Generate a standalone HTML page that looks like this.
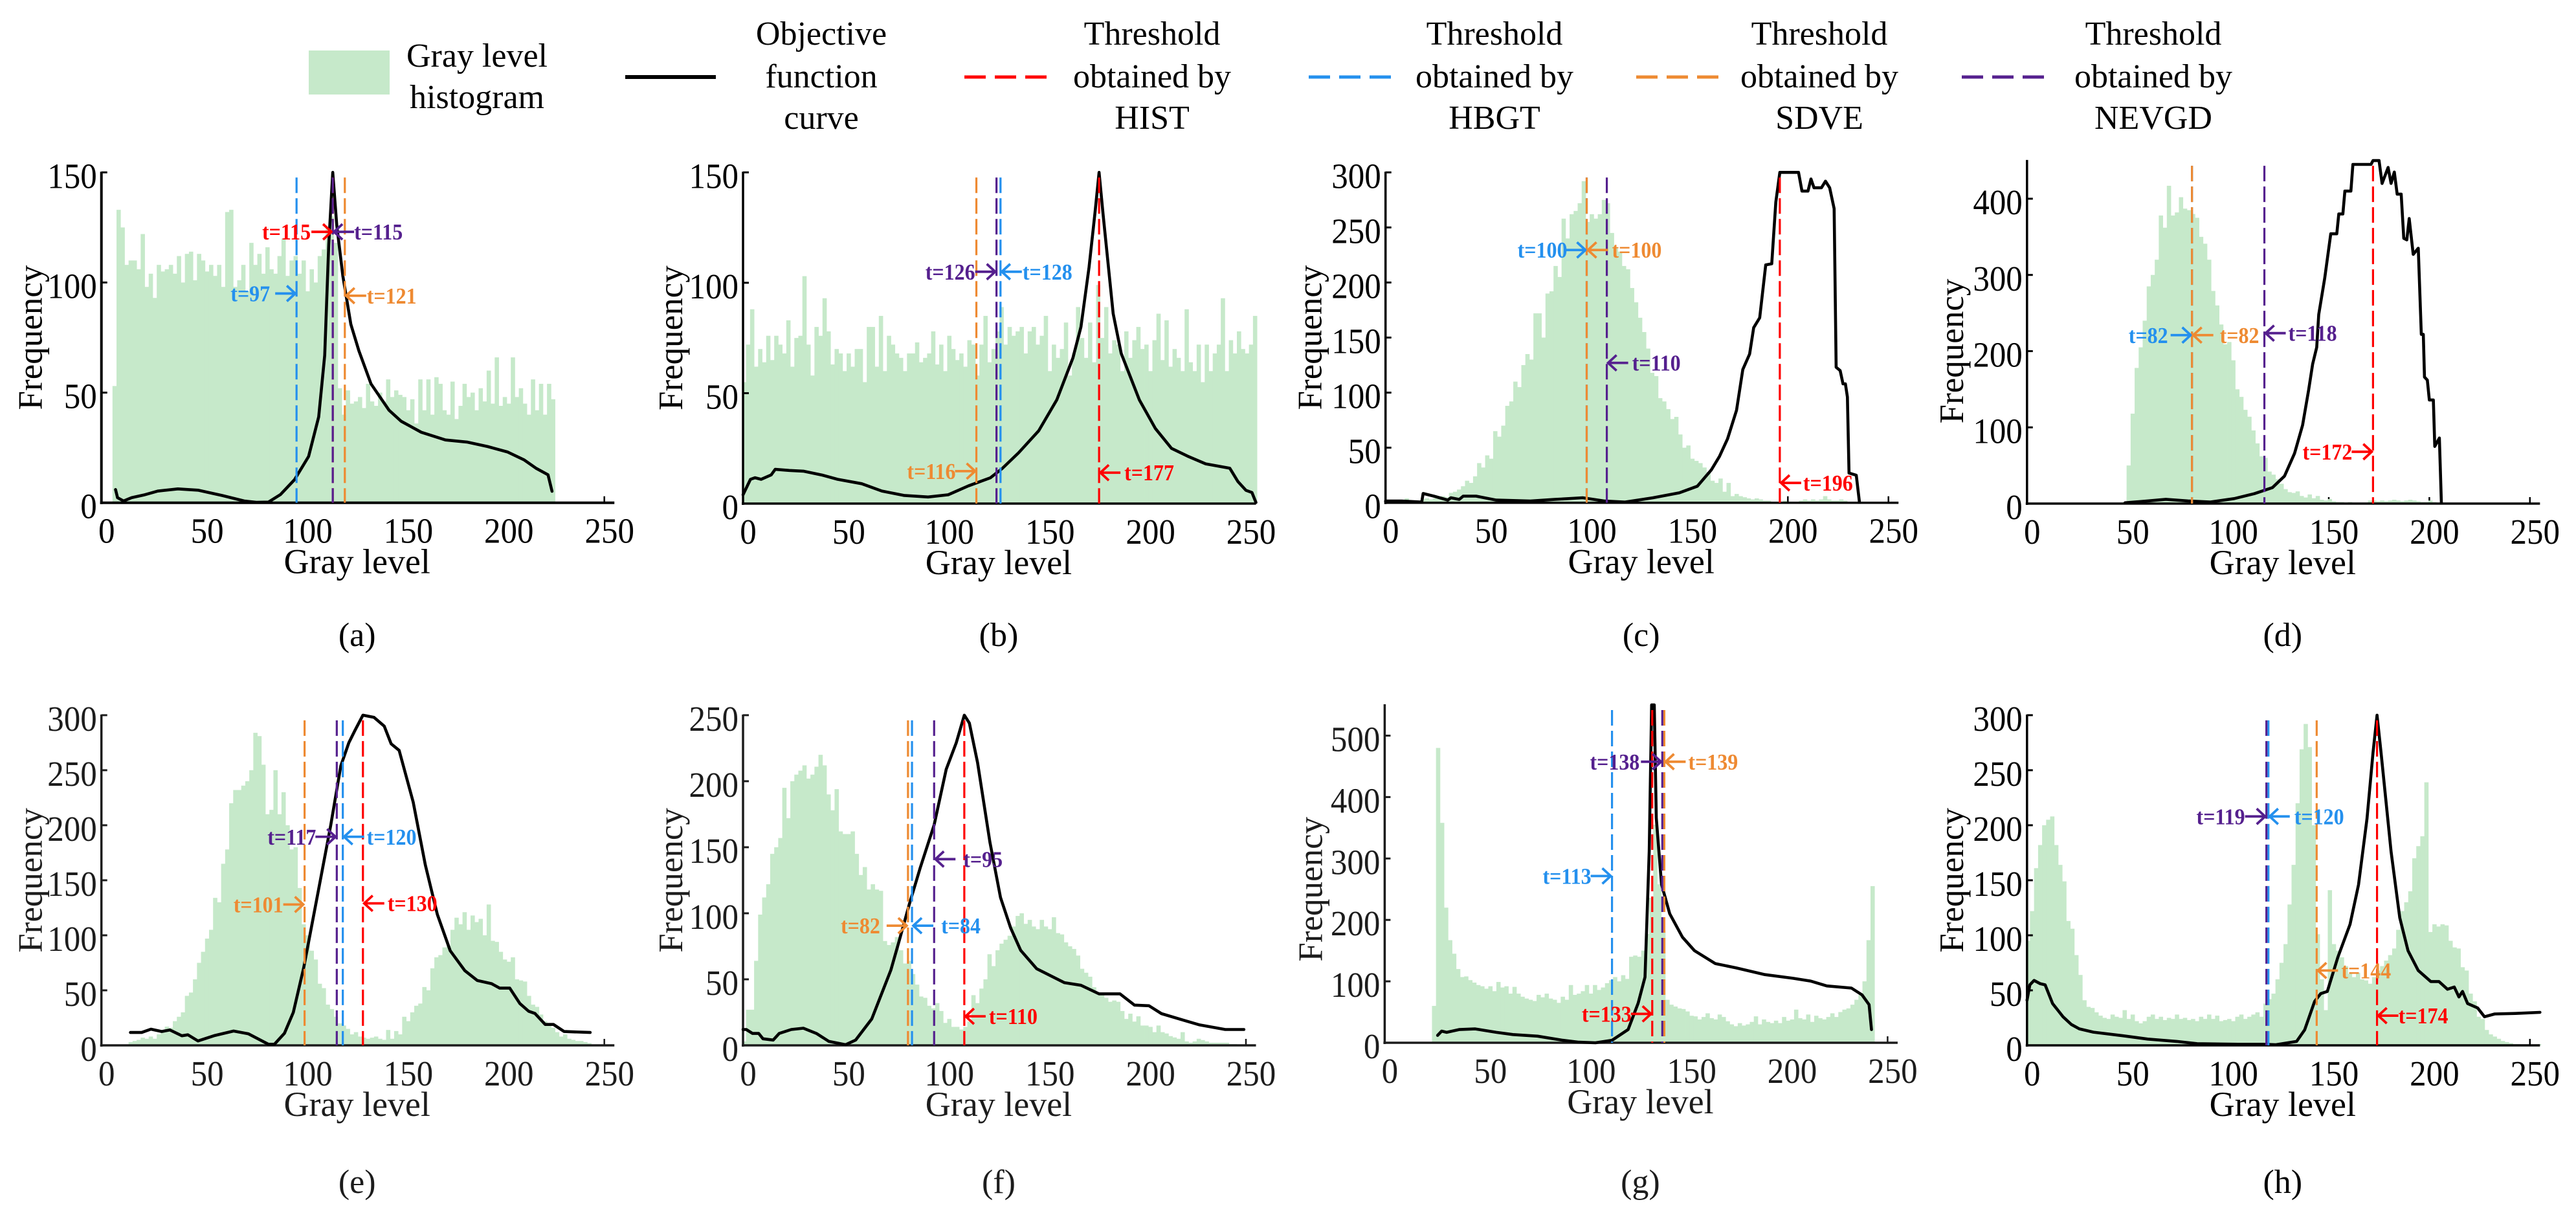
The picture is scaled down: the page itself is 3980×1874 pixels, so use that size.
<!DOCTYPE html>
<html lang="en">
<head>
<meta charset="utf-8">
<title>Gray level histograms and objective function curves</title>
<style>
html,body{margin:0;padding:0;background:#fff;}
svg{display:block;font-family:"Liberation Serif",serif;}
</style>
</head>
<body>
<svg id="figure" xmlns="http://www.w3.org/2000/svg" width="3980" height="1874" viewBox="0 0 3980 1874">
<rect x="0" y="0" width="3980" height="1874" fill="#fff"/>
<g font-size="52" text-anchor="middle" fill="#000">
<rect x="477" y="78" width="125" height="68" fill="#c6e9ca"/>
<text x="737"><tspan x="737" y="103">Gray level</tspan><tspan x="737" y="167">histogram</tspan></text>
<line x1="966" x2="1106" y1="119" y2="119" stroke="#000" stroke-width="6"/>
<text><tspan x="1269" y="69">Objective</tspan><tspan x="1269" y="135">function</tspan><tspan x="1269" y="199">curve</tspan></text>
<line x1="1490" x2="1617" y1="119" y2="119" stroke="#ff0000" stroke-width="5" stroke-dasharray="33 14"/>
<text><tspan x="1780" y="69">Threshold</tspan><tspan x="1780" y="135">obtained by</tspan><tspan x="1780" y="199">HIST</tspan></text>
<line x1="2022" x2="2151" y1="119" y2="119" stroke="#2490ee" stroke-width="5" stroke-dasharray="33 14"/>
<text><tspan x="2309" y="69">Threshold</tspan><tspan x="2309" y="135">obtained by</tspan><tspan x="2309" y="199">HBGT</tspan></text>
<line x1="2528" x2="2658" y1="119" y2="119" stroke="#ee8a32" stroke-width="5" stroke-dasharray="33 14"/>
<text><tspan x="2811" y="69">Threshold</tspan><tspan x="2811" y="135">obtained by</tspan><tspan x="2811" y="199">SDVE</tspan></text>
<line x1="3031" x2="3160" y1="119" y2="119" stroke="#55208e" stroke-width="5" stroke-dasharray="33 14"/>
<text><tspan x="3327" y="69">Threshold</tspan><tspan x="3327" y="135">obtained by</tspan><tspan x="3327" y="199">NEVGD</tspan></text>
</g>
</svg>
<script>
// ---- shared labels ----
const methods = ['HIST','HBGT','SDVE','NEVGD'];
const xTicks = [0,50,100,150,200,250];
const yTicksA = [0,50,100,150];
const yTicksB = [0,50,100,150];
const yTicksC = [0,50,100,150,200,250,300];
const yTicksD = [0,100,200,300,400];
const yTicksE = [0,50,100,150,200,250,300];
const yTicksF = [0,50,100,150,200,250];
const yTicksG = [0,100,200,300,400,500];
const yTicksH = [0,50,100,150,200,250,300];

// ---- histogram values (two-gray-level bins) ----
const histStartA = 6;
const histA = [53,133,125,108,110, 110,106,122,98,104, 93,108,105,106,108, 104,112,100,113,114, 101,113,110,105,108, 103,108,98,132,133, 98,101,108,96,118, 108,113,104,116,106, 104,112,120,103,110, 112,104,110,96,106, 100,112,115,125,130, 118,52,40,51,45, 46,48,43,54,46, 44,50,46,56,48, 51,49,48,42,47, 36,56,42,56,40, 57,54,42,40,55, 38,44,54,48,50, 42,52,46,60,45, 66,44,48,45,66, 48,52,45,40,56, 42,54,40,54,47];
const histStartB = 0;
const histB = [55,72,88,62,70, 64,76,65,76,72, 68,83,62,75,76, 103,72,58,80,76, 93,78,63,70,68, 60,68,62,70,70, 55,80,80,62,85, 60,76,72,68,66, 60,68,68,73,64, 66,68,78,63,72, 60,76,70,65,68, 62,74,72,58,72, 85,64,70,78,89, 72,80,76,78,80, 68,78,80,72,76, 85,60,72,66,70, 82,58,68,89,75, 66,82,64,99,75, 89,68,74,72,60, 78,66,74,80,70, 72,60,74,86,65, 83,62,70,66,60, 88,64,60,72,55, 72,60,68,72,93, 60,74,68,78,70, 68,72,85];
const histStartC = 4;
const histC = [0,1,2,4,1, 1,2,3,4,3, 4,5,6,5,9, 10,12,15,20,18, 24,36,32,43,40, 65,60,70,88,92, 110,105,125,135,130, 172,172,150,190,192, 215,205,258,240,262, 265,272,292,255,262, 258,262,275,272,245, 232,228,215,212,195, 182,168,155,140,118, 115,95,92,85,76, 78,62,50,52,40, 38,36,32,28,20, 18,22,10,18,6, 8,6,5,4,3, 4,3,2,2,1, 1,1,2,1,1, 1,2,3,2,3, 2,3,6,3,2, 2,3,2,1,1];
const histStartD = 48;
const histD = [2,50,118,178,205, 240,285,300,320,378, 362,417,378,382,402, 387,385,380,375,350, 341,320,279,260,235, 209,212,188,150,140, 123,114,96,79,62, 60,42,38,32,26, 19,15,14,16,10, 8,12,7,10,5, 4,6,3,2,2, 1,2,1,1,0, 1,4,4,3,4, 3,4,5,4,3, 4,5,4,3,2, 2,4,2,1,0];
const histStartE = 14;
const histE = [3,4,5,7,6, 8,6,10,14,17, 16,22,26,30,45, 48,60,75,85,97, 105,134,130,165,178, 220,232,232,236,240, 250,284,281,255,210, 214,250,210,230,200, 178,180,143,110,100, 86,78,56,52,37, 33,26,20,18,15, 10,12,8,7,6, 7,8,6,5,14, 6,13,10,26,22, 30,36,38,53,50, 70,80,82,89,90, 105,116,110,121,105, 118,112,115,100,128, 95,94,85,78,76, 80,60,59,58,45, 37,35,28,22,18, 16,12,8,10,6, 5,4,4,3,2];
const histStartF = 0;
const histF = [3,27,27,64,99, 112,122,145,150,157, 195,172,200,205,208, 212,202,205,211,220, 212,190,178,194,162, 160,160,162,145,129, 135,118,122,118,117, 79,76,78,82,72, 62,64,54,46,37, 36,30,28,32,26, 17,20,14,14,12, 14,18,38,32,43, 50,69,60,72,77, 80,83,90,98,100, 92,95,90,88,95, 90,88,97,85,84, 78,75,73,68,58, 55,52,44,40,38, 36,33,34,33,26, 20,24,18,22,15, 15,14,10,15,10, 9,7,6,5,10, 3,2,3,5,4, 3,2,2,2,2, 2,1,1,0];
const histStartG = 24;
const histG = [60,480,358,220,167, 145,120,107,108,102, 98,94,92,88,92, 84,99,90,92,80, 91,80,75,72,70, 68,78,74,80,72, 70,65,75,70,94, 78,80,84,94,80, 94,86,90,97,102, 107,100,110,104,140, 142,140,150,177,236, 355,258,183,70,62, 59,56,55,51,44, 43,38,42,48,40, 38,46,42,35,30, 27,32,28,30,34, 43,30,38,34,32, 36,32,42,36,38, 54,40,38,46,34, 44,40,38,42,48, 42,50,54,56,62, 70,78,100,167,255];
const histStartH = 0;
const histH = [95,122,161,182,200, 205,208,182,164,149, 113,106,82,64,41, 35,34,30,27,25, 24,28,26,25,32, 24,28,22,20,22, 26,28,24,26,23, 25,24,28,24,25, 23,24,22,26,24, 28,24,27,22,23, 24,22,26,28,24, 26,28,30,26,38, 42,47,60,75,92, 128,164,220,269,292, 271,200,101,60,32, 141,92,86,80,72, 65,62,66,60,59, 56,62,68,72,77, 82,88,105,122,130, 140,170,181,190,239, 103,110,108,110,109, 95,89,88,71,68, 47,40,26,24,14, 10,8,6,4,3, 2,1,1,0,0, 0,0,1];

// ---- objective function curves ----
const curveXA = [7,8,11,15,21,28,38,48,60,71,77,83,89,96,103,108,111,113,115,117,120,124,128,134,143,149,159,171,182,192,202,210,216,222,224];
const curveYA = [6,2.3,0.8,2.3,3.5,5.3,6.3,5.7,3.3,0.8,0.2,0.3,3.7,10.5,21,39,67,117,150,126,103,81,69,54,42,37,32,28.5,27.5,25.5,23,19.5,15.7,12.7,5.2];
const curveXB = [0,3.7,6,9,14,16,23,30,39,47,59,69,80,92,102,112,123,129,137,147,156,164,168,172,175,177,179,184,188,197,205,213,221,230,242,246,250,253,255];
const curveYB = [4,11,11.7,11,13,15.5,15,14.7,13,11,9,5.7,3.7,3,4,8,11.7,16,23,33,47,66,80,107,132,150,131,86,68,47,34,25,21.5,18,16,10,6,5,0.5];
const curveXC = [0,8,18,18.7,24,31,32.5,36.6,38.6,45,55,72,84,98,109,119,133,146,155,162,166,170,174.5,177.6,181,183,186,189,192,194,196,205.3,207,210,211.5,213,216.7,218.7,220.8,223,224,226,227.4,228.6,229.6,230.4,234,235.6];
const curveYC = [1.5,1.5,0.6,8.4,6,2.4,4.5,3,6,6,2.4,1.5,3,4.5,1.5,0.6,4.5,9,15,30,42,58,84,121,135,159,168,216,217,273,300,300,283,283,294,286,286,292,286,267,123,120,108,108,96,27,25,0.6];
const curveXD = [48.7,60,69,80,91,103,113,122,128,133,137,140,142,144,145,148,151,154,155,157,158,161,162,171,172,175,176.5,179.5,181,182.6,184,186,187.3,188.8,190,192,194.5,196,197,197.6,199,200,202,202.7,205,206];
const curveYD = [1,3.5,5.6,3.5,2,6.5,13,21,36,66,103,149,183,205,248,296,354,354,380,380,410,410,445,445,450,450,420,441,420,435,406,406,348,346,374,327,335,222,222,166,162,136,136,75,86,1];
const curveXE = [14.4,20,24.6,30,34,40,43,48,56.4,65.7,73,83,86,91,95.4,100.6,107.8,114,119,123,126,130,135.5,140.6,144,148,155,161,167,173.4,180.6,186.8,194,198,203,208,212.4,215.5,220.6,224.7,230,243];
const curveYE = [11.7,11.7,14.7,12.6,14,8.7,9.6,4,9,13,10.5,1,1,11,30,71,140,200,254,275,286,300,298,290,274,268,221,164,119,86,68,59,56,52,52,38,31,29,19,19,12.6,11.7];
const curveXF = [0,1.6,4.7,7.8,9.9,15,18,24,30,36.5,42.7,51,56,64,73.5,77.6,82.7,88,95,101,106,110,112.5,116.6,122.7,128,133,138,146,159.7,168,177,187.4,194.6,201.8,208,219,227,239.7,249];
const curveYF = [12,12,9,9,5,4,9,12,13,9,3,0.5,4,20,57,79,107,134,167,209,229,250,244,214,154,112,89,72,58,47.5,45.5,39,39,30.5,30,24,19,15.5,12,12];
const curveXG = [26.3,28.3,30.8,37,45,55.5,63.7,76,88,96.5,104.8,113,121,126,129.4,131.5,132.7,134,135,137.6,141.7,148,154,164.3,174.6,189,203,211.6,219.8,232,237.3,240.8,242];
const curveYG = [12,19,17,21.5,22.6,17,13.4,10.8,4.3,1,0,4,21.5,64.5,107,312,550,550,366,258,210,172,150,129,122,111,105,100.5,92.5,89,78,62,21.5];
const curveXH = [0,1.4,3.5,6.6,9,12.7,17.9,22,26,33,47.7,60,74.4,84.6,105,117.5,123.7,134,138,143,146,149.3,154.5,160.6,164.8,169,172,174,176,181,185.3,189.4,194.5,200.7,204.8,209,212.4,214.7,216.5,219,224,227.4,232.5,242.8,255];
const curveYH = [41,55,59,56,55,38,26,19,15,12,8.7,5.7,3.6,1.5,1,1,0.6,3.6,14,40,47,49,80,110,146,206,266,300,266,176,116,86,68,58,58,51,53,44,49,38,34,26,28.5,29,30];

// ---- thresholds and annotation heights, in the order of `methods` ----
const thresholdsA = [115,97,121,115];
const thresholdsB = [177,128,116,126];
const thresholdsC = [196,100,100,110];
const thresholdsD = [172,82,82,118];
const thresholdsE = [130,120,101,117];
const thresholdsF = [110,84,82,95];
const thresholdsG = [133,113,139,138];
const thresholdsH = [174,120,144,119];
const labelFreqA = [123,95,94,123];
const labelFreqB = [14,105,14.7,105];
const labelFreqC = [18,229.5,229.5,127];
const labelFreqD = [68,221,221,223.6];
const labelFreqE = [129,189.5,128,189.5];
const labelFreqF = [22,90.6,90.6,141];
const labelFreqG = [47,271.5,457.5,457.5];
const labelFreqH = [27,208,68,208];

// ---- layout (pixels and styles, separate from the data) ----
const methodColors = {HIST:'#ff0000',HBGT:'#2490ee',SDVE:'#ee8a32',NEVGD:'#55208e'};
const HIST_COLOR = '#c6e9ca';
const BIN_WIDTH = 2;
const X_SPAN_PX = 777;
const panels = [
 {id:'a',x0:156.7,zero:776.7,y1:150,yPx:266.3,yMax:150,ink:'#000',axisW:4,yLab:-92,ticks:yTicksA,start:histStartA,hist:histA,cx:curveXA,cy:curveYA,thr:thresholdsA,lf:labelFreqA,side:[-1,-1,1,1],gap:[34,41,34,33]},
 {id:'b',x0:1148,zero:778,y1:150,yPx:266.3,yMax:150,ink:'#000',axisW:3.5,yLab:-94,ticks:yTicksB,start:histStartB,hist:histB,cx:curveXB,cy:curveYB,thr:thresholdsB,lf:labelFreqB,side:[1,1,-1,-1],gap:[39,34,32,33]},
 {id:'c',x0:2140.7,zero:776.7,y1:300,yPx:266.3,yMax:300,ink:'#000',axisW:3.5,yLab:-99,ticks:yTicksC,start:histStartC,hist:histC,cx:curveXC,cy:curveYC,thr:thresholdsC,lf:labelFreqC,side:[1,-1,1,1],gap:[36,30,39,39]},
 {id:'d',x0:3131.8,zero:778,y1:400,yPx:307,yMax:450,ink:'#000',axisW:3.5,yLab:-99,ticks:yTicksD,start:histStartD,hist:histD,cx:curveXD,cy:curveYD,thr:thresholdsD,lf:labelFreqD,side:[-1,-1,1,1],gap:[32,37,43,37]},
 {id:'e',x0:156.7,zero:1615,y1:300,yPx:1104.9,yMax:300,ink:'#1c1c1c',axisW:3.5,yLab:-92,ticks:yTicksE,start:histStartE,hist:histE,cx:curveXE,cy:curveYE,thr:thresholdsE,lf:labelFreqE,side:[1,1,-1,-1],gap:[38,37,33,32]},
 {id:'f',x0:1148,zero:1615,y1:250,yPx:1104.9,yMax:250,ink:'#1c1c1c',axisW:3.5,yLab:-94,ticks:yTicksF,start:histStartF,hist:histF,cx:curveXF,cy:curveYF,thr:thresholdsF,lf:labelFreqF,side:[1,1,-1,1],gap:[38,45,43,45]},
 {id:'g',x0:2139.4,zero:1611,y1:500,yPx:1136.5,yMax:550,ink:'#1c1c1c',axisW:3.5,yLab:-97,ticks:yTicksG,start:histStartG,hist:histG,cx:curveXG,cy:curveYG,thr:thresholdsG,lf:labelFreqG,side:[-1,-1,1,-1],gap:[32,32,37,35]},
 {id:'h',x0:3131.8,zero:1615,y1:300,yPx:1104.9,yMax:300,ink:'#000',axisW:3.5,yLab:-99,ticks:yTicksH,start:histStartH,hist:histH,cx:curveXH,cy:curveYH,thr:thresholdsH,lf:labelFreqH,side:[1,1,1,-1],gap:[33,40,38,33]}
];
const captionBaseline = {a:998,b:998,c:998,d:998,e:1843,f:1843,g:1843,h:1843};

const svgNS = 'http://www.w3.org/2000/svg';
const root = document.getElementById('figure');

function make(tag, parent, attrs){
  const el = document.createElementNS(svgNS, tag);
  for (const k in attrs) el.setAttribute(k, attrs[k]);
  parent.appendChild(el);
  return el;
}
function xScale(p, v){ return p.x0 + v * X_SPAN_PX / 250; }
function yScale(p, v){ return p.zero - v * (p.zero - p.yPx) / p.y1; }

function drawPanel(p){
  const g = make('g', root, {});
  
  

  // x ticks sit under the histogram
  xTicks.forEach(function(t){
    const tick = make('line', g, {x1:xScale(p,t),x2:xScale(p,t),y1:p.zero,y2:p.zero-10,stroke:p.ink,'stroke-width':2.5});
    
    
    const lab = make('text', g, {transform:'translate('+(xScale(p,t)+8)+','+(p.zero+62)+') scale(1,1.08)','font-size':51,'text-anchor':'middle',fill:p.ink});
    lab.textContent = String(t);
    
    
  });

  // histogram bars
  const hg = make('g', g, {fill:HIST_COLOR});
  
  
  p.hist.forEach(function(v, i){
    const level = p.start + i * BIN_WIDTH;
    const left = xScale(p, level - 0.5);
    const bar = make('rect', hg, {x:left,y:yScale(p,v),width:xScale(p,level-0.5+BIN_WIDTH)-left+0.4,height:p.zero-yScale(p,v)});
    
    
  });

  // axes
  const xAxis = make('line', g, {x1:p.x0-2,x2:xScale(p,255),y1:p.zero,y2:p.zero,stroke:p.ink,'stroke-width':p.axisW});
  
  
  const yAxis = make('line', g, {x1:p.x0,x2:p.x0,y1:yScale(p,p.yMax)-1,y2:p.zero+2,stroke:p.ink,'stroke-width':p.axisW});
  
  
  p.ticks.forEach(function(t){
    const tick = make('line', g, {x1:p.x0,x2:p.x0+9,y1:yScale(p,t),y2:yScale(p,t),stroke:p.ink,'stroke-width':3});
    
    
    const lab = make('text', g, {transform:'translate('+(p.x0-7)+','+(yScale(p,t)+24)+') scale(1,1.08)','font-size':51,'text-anchor':'end',fill:p.ink});
    lab.textContent = String(t);
    
    
  });

  // axis titles and caption
  const xTitle = make('text', g, {x:p.x0+395,y:p.zero+109,'font-size':54,'text-anchor':'middle',fill:p.ink});
  xTitle.textContent = 'Gray level';
  
  
  const midY = (yScale(p,p.y1) + p.zero) / 2;
  const yTitle = make('text', g, {transform:'translate('+(p.x0+p.yLab)+','+midY+') rotate(-90)','font-size':53,'text-anchor':'middle',fill:p.ink});
  yTitle.textContent = 'Frequency';
  
  
  const caption = make('text', g, {x:p.x0+395,y:captionBaseline[p.id],'font-size':52,'text-anchor':'middle',fill:p.ink});
  caption.textContent = '(' + p.id + ')';
  
  

  // objective function curve
  const pts = p.cx.map(function(x, i){ return xScale(p,x).toFixed(1) + ',' + yScale(p,p.cy[i]).toFixed(1); }).join(' ');
  const curve = make('polyline', g, {points:pts,fill:'none',stroke:'#000','stroke-width':4.6,'stroke-linejoin':'round','stroke-linecap':'round'});
  
  

  // threshold lines
  methods.forEach(function(m, i){
    const x = xScale(p, p.thr[i]);
    const line = make('line', g, {x1:x,x2:x,y1:yScale(p,p.yMax)+8,y2:p.zero,stroke:methodColors[m],'stroke-width':3.2,'stroke-dasharray':'24 8'});
    
    
  });

  // annotations
  methods.forEach(function(m, i){
    const x = xScale(p, p.thr[i]);
    const y = yScale(p, p.lf[i]);
    const s = p.side[i];
    const col = methodColors[m];
    const tip = x + s * 2;
    const d = 'M' + (tip + s*31) + ' ' + y + 'L' + tip + ' ' + y + 'M' + (tip + s*13) + ' ' + (y-12) + 'L' + tip + ' ' + y + 'L' + (tip + s*13) + ' ' + (y+12);
    const arrow = make('path', g, {d:d,fill:'none',stroke:col,'stroke-width':3.8});
    
    
    const lab = make('text', g, {transform:'translate('+(x + s*p.gap[i])+','+(y+12)+') scale(1,1.1)','font-size':32,'font-weight':'bold','text-anchor':s<0?'end':'start',fill:col});
    lab.textContent = 't=' + p.thr[i];
    
    
  });
}
panels.forEach(drawPanel);
</script>
</body>
</html>
